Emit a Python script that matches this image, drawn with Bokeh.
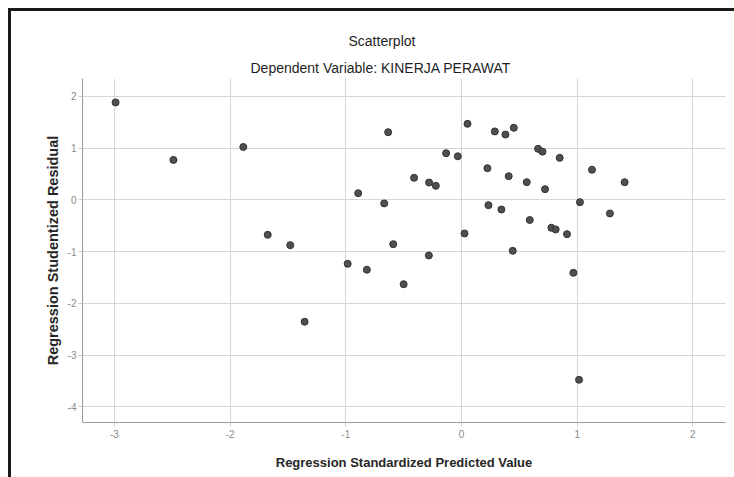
from bokeh.plotting import figure
from bokeh.models import FixedTicker, Range1d, ColumnDataSource, Title, InlineStyleSheet
from bokeh.embed import file_html
from bokeh.resources import INLINE

# ---- data ----
predicted = [-2.99, -2.49, -1.886, -1.675, -1.48, -1.356, -0.984, -0.818, -0.50,
             -0.893, -0.668, -0.634, -0.59, -0.41, -0.28, -0.222, -0.282, -0.133,
             -0.032, 0.026, 0.052, 0.288, 0.224, 0.233, 0.345, 0.38, 0.452, 0.408,
             0.443, 0.59, 0.564, 0.662, 0.70, 0.849, 0.722, 0.777, 0.814, 0.912,
             0.967, 1.024, 1.128, 1.283, 1.41, 1.016]
residual = [1.88, 0.77, 1.02, -0.676, -0.876, -2.355, -1.236, -1.35, -1.63,
            0.127, -0.07, 1.305, -0.857, 0.425, 0.334, 0.27, -1.075, 0.90,
            0.84, -0.65, 1.467, 1.32, 0.61, -0.104, -0.187, 1.26, 1.39, 0.456,
            -0.985, -0.39, 0.34, 0.985, 0.93, 0.81, 0.205, -0.54, -0.573, -0.664,
            -1.41, -0.046, 0.58, -0.264, 0.34, -3.475]
x_ticks = [-3, -2, -1, 0, 1, 2]
y_ticks = [-4, -3, -2, -1, 0, 1, 2]
title_main = "Scatterplot"
title_sub = "Dependent Variable: KINERJA PERAWAT"
x_label = "Regression Standardized Predicted Value"
y_label = "Regression Studentized Residual"

FONT = "Liberation Sans"

src = ColumnDataSource(data=dict(x=predicted, y=residual))

frame_css = InlineStyleSheet(css="""
:host::after {
  content: "";
  position: absolute;
  left: 8px;
  top: 8px;
  right: 0;
  bottom: 0;
  border-top: 3px solid #1a1a1a;
  border-left: 3px solid #1a1a1a;
  pointer-events: none;
}
""")

p = figure(width=734, height=477, output_backend="svg", toolbar_location=None,
           x_range=Range1d(-3.276, 2.282), y_range=Range1d(-4.30, 2.342),
           min_border_left=82, min_border_right=9, min_border_top=78,
           min_border_bottom=55)
p.stylesheets = [frame_css]
p.background_fill_color = "white"
p.border_fill_color = "white"
p.outline_line_color = None

for ax, ticks in ((p.xaxis, x_ticks), (p.yaxis, y_ticks)):
    ax.ticker = FixedTicker(ticks=ticks)
    ax.major_label_overrides = {t: str(t) for t in ticks}
    ax.axis_line_color = "#9a9a9a"
    ax.major_tick_line_color = "#cfcfcf"
    ax.major_tick_out = 4
    ax.major_tick_in = 0
    ax.minor_tick_line_color = None
    ax.major_label_text_font = FONT
    ax.major_label_text_font_size = "10px"
    ax.major_label_text_color = "#8a8a8a"
    ax.axis_label_text_font = FONT
    ax.axis_label_text_font_style = "bold"
    ax.axis_label_text_color = "#262626"

p.xaxis.axis_label = x_label
p.yaxis.axis_label = y_label
p.xaxis.axis_label_text_font_size = "13px"
p.yaxis.axis_label_text_font_size = "14.5px"
p.xaxis.major_label_standoff = 3
p.yaxis.major_label_standoff = 2
p.xaxis.axis_label_standoff = 14
p.yaxis.axis_label_standoff = 4

p.xgrid.ticker = FixedTicker(ticks=x_ticks)
p.ygrid.ticker = FixedTicker(ticks=y_ticks)
p.grid.grid_line_color = "#d6d6d6"
p.grid.grid_line_width = 1

p.scatter("x", "y", source=src, size=7, fill_color="#4f4f4f",
          line_color="#333333", line_width=1)

# titles (sub title first: it sits next to the plot, main title above it)
p.add_layout(Title(text=title_sub, align="left", offset=168, standoff=5,
                   text_font=FONT, text_font_size="14px", text_font_style="normal",
                   text_color="#1f1f1f"), "above")
p.add_layout(Title(text=title_main, align="left", offset=266, standoff=13,
                   text_font=FONT, text_font_size="14px", text_font_style="normal",
                   text_color="#1f1f1f"), "above")

open("out.html", "w").write(file_html(p, INLINE))
